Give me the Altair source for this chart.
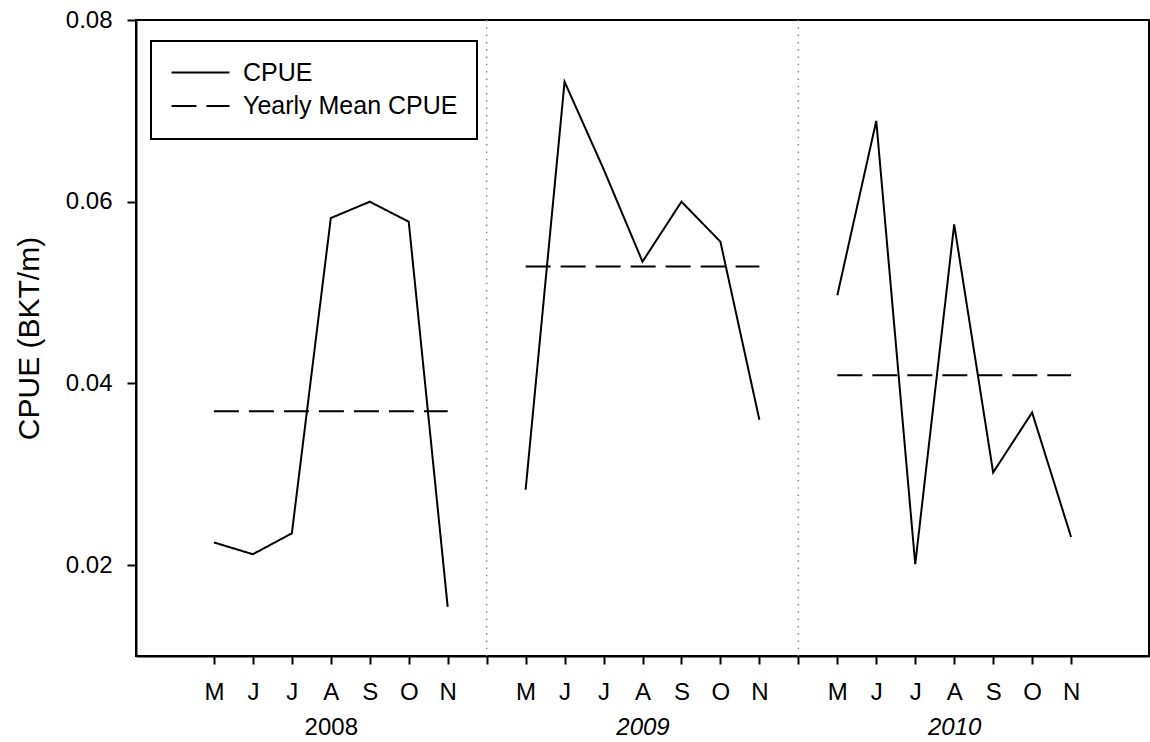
import json

import altair as alt
import pandas as pd

# Monthly CPUE (BKT/m), May to November, for each sampling year
months = ["M", "J", "J", "A", "S", "O", "N"]
years = ["2008", "2009", "2010"]
cpue_2008 = [0.0225, 0.0212, 0.0235, 0.0582, 0.0600, 0.0578, 0.0154]
cpue_2009 = [0.0283, 0.0732, 0.0636, 0.0534, 0.0600, 0.0556, 0.0360]
cpue_2010 = [0.0497, 0.0689, 0.0201, 0.0575, 0.0302, 0.0368, 0.0231]
series_names = ["CPUE", "Yearly Mean CPUE"]

slot = len(months) + 1  # seven months plus one empty slot between years
font = "Liberation Sans"

rows = []
for yi, (yr, vals) in enumerate(zip(years, [cpue_2008, cpue_2009, cpue_2010])):
    for mi, v in enumerate(vals):
        rows.append({"year": yr, "pos": yi * slot + mi, "value": v, "series": series_names[0]})
    mean = sum(vals) / len(vals)
    for mi in (0, len(vals) - 1):
        rows.append({"year": yr, "pos": yi * slot + mi, "value": mean, "series": series_names[1]})
df = pd.DataFrame(rows)

dividers = pd.DataFrame({"pos": [slot * (i + 1) - 1 for i in range(len(years) - 1)]})
year_pos = pd.DataFrame({"year": years, "pos": [i * slot + 3 for i in range(len(years))]})

n_ticks = len(years) * slot - 1
month_expr = (
    f"datum.value % {slot} == {slot - 1} ? '' : "
    f"{json.dumps(months)}[datum.value % {slot}]"
)
year_map = {str(p): y for p, y in zip(year_pos["pos"], years)}
year_expr = f"{json.dumps(year_map)}[datum.value + '']"

x_domain = [-2, 24]
y_scale = alt.Scale(domain=[0.01, 0.08], nice=False, zero=False)


def x_scale():
    return alt.Scale(domain=x_domain, nice=False, zero=False)


lines = alt.Chart(df).mark_line(color="black", strokeWidth=2).encode(
    x=alt.X(
        "pos:Q",
        scale=x_scale(),
        axis=alt.Axis(
            values=list(range(n_ticks)),
            labelExpr=month_expr,
            tickSize=8,
            labelPadding=16,
            labelFontSize=24,
            title=None,
            grid=False,
        ),
    ),
    y=alt.Y(
        "value:Q",
        scale=y_scale,
        axis=alt.Axis(
            values=[0.02, 0.04, 0.06, 0.08],
            format=".2f",
            tickSize=9,
            labelPadding=15,
            labelFontSize=24,
            title="CPUE (BKT/m)",
            titleFontSize=30,
            titleFontWeight="normal",
            titlePadding=21,
            grid=False,
        ),
    ),
    strokeDash=alt.StrokeDash(
        "series:N",
        scale=alt.Scale(domain=series_names, range=[[1, 0], [25, 10]]),
        legend=alt.Legend(
            title=None,
            orient="none",
            legendX=15,
            legendY=21,
            strokeColor="black",
            padding=19,
            # a long horizontal stroke that keeps the rows compact
            symbolType="M-4,0H4",
            symbolSize=210,
            symbolStrokeWidth=2,
            symbolStrokeColor="black",
            symbolOffset=18,
            labelFontSize=25,
            labelOffset=30,
            labelLimit=0,
            rowPadding=7.6,
        ),
    ),
    detail="year:N",
)

rules = alt.Chart(dividers).mark_rule(
    color="#8a8a8a", strokeWidth=1.5, strokeDash=[1.5, 5.8]
).encode(x=alt.X("pos:Q", scale=x_scale(), axis=None))

year_axis = alt.Chart(year_pos).mark_point(opacity=0).encode(
    x=alt.X(
        "pos:Q",
        scale=x_scale(),
        axis=alt.Axis(
            orient="bottom",
            values=list(year_pos["pos"]),
            labelExpr=year_expr,
            labelFontSize=24,
            labelFontStyle={
                "condition": {"test": f"datum.value == {year_pos['pos'][0]}", "value": "normal"},
                "value": "italic",
            },
            ticks=False,
            tickSize=0,
            domain=False,
            grid=False,
            labelPadding=59,
            title=None,
        ),
    ),
)

chart = (
    alt.layer(lines, rules, year_axis)
    .resolve_scale(x="independent")
    .properties(
        width=1013,
        height=636,
        padding={"left": 136, "top": 20, "right": 1, "bottom": 86},
        autosize=alt.AutoSizeParams(type="none"),
    )
    .configure(font=font)
    .configure_view(stroke="black", strokeWidth=2)
    .configure_axis(
        labelFont=font,
        titleFont=font,
        labelColor="black",
        titleColor="black",
        domainColor="black",
        tickColor="black",
        domainWidth=2,
        tickWidth=2,
    )
    .configure_legend(labelFont=font, labelColor="black", strokeWidth=2)
)

chart.save("out.html", embed_options={"renderer": "svg", "actions": False})
